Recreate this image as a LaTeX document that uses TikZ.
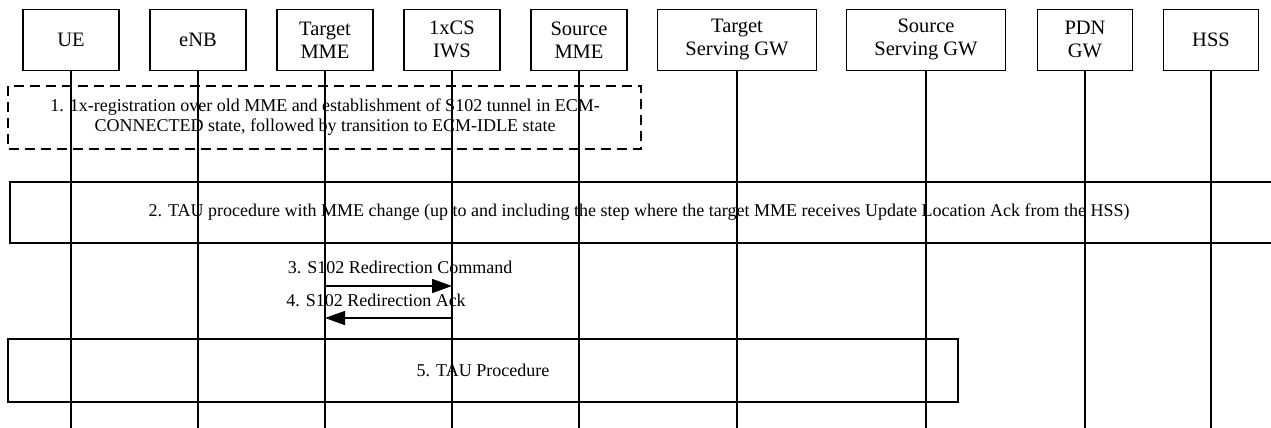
\documentclass[tikz,border=0pt]{standalone}
\usepackage{fontspec}
\setmainfont{Liberation Serif}
\usetikzlibrary{arrows.meta}
\begin{document}
\begin{tikzpicture}[x=1pt,y=-1pt,
  ent/.style={draw, line width=1.2pt, minimum height=61pt, inner sep=0pt,
    font=\fontsize{20.5}{23}\selectfont, align=center},
  life/.style={line width=1.3pt},
  frame/.style={line width=1.2pt},
  lbl/.style={font=\fontsize{18}{20}\selectfont, align=center, inner sep=0pt},
  msg/.style={line width=1.5pt, -{Triangle[length=20pt,width=14pt]}}]
\useasboundingbox (0,0) rectangle (1271,428);
\coordinate (bot) at (0,428);
% entities
\node[ent, minimum width=96pt]  (ue)   at (71,39.8)  {UE};
\node[ent, minimum width=96pt]  (enb)  at (198,39.8) {eNB};
\node[ent, minimum width=96pt]  (tmme) at (325,39.8) {Target\\MME};
\node[ent, minimum width=96pt]  (iws)  at (452,39.8) {1xCS\\IWS};
\node[ent, minimum width=96pt]  (smme) at (579,39.8) {Source\\MME};
\node[ent, minimum width=159pt] (tsgw) at (737,39.8) {Target\\Serving GW};
\node[ent, minimum width=159pt] (ssgw) at (926,39.8) {Source\\Serving GW};
\node[ent, minimum width=95pt]  (pgw)  at (1085,39.8) {PDN\\GW};
\node[ent, minimum width=95pt]  (hss)  at (1211,39.8) {HSS};
% lifelines
\foreach \n in {ue,enb,tmme,iws,smme,tsgw,ssgw,pgw,hss}
  \draw[life] (\n.south) -- (\n.south |- bot);
% step 1
\draw[frame, dashed, dash pattern=on 10pt off 6pt] (8,86) rectangle (641,149);
\node[lbl] (t1) at (325,117) {1. 1x-registration over old MME and establishment of S102 tunnel in ECM-\\CONNECTED state, followed by transition to ECM-IDLE state};
% step 2
\draw[frame] (1271,182) -- (10,182) -- (10,243) -- (1271,243);
\node[lbl] (t2) at (639,212) {2. TAU procedure with MME change (up to and including the step where the target MME receives Update Location Ack from the HSS)};
% step 3
\coordinate (m3a) at (tmme.south |- 0,286);
\coordinate (m3b) at (iws.south |- 0,286);
\draw[msg] (m3a) -- (m3b);
\node[lbl] (l3) at (400,267) {3. S102 Redirection Command};
% step 4
\coordinate (m4a) at (iws.south |- 0,318);
\coordinate (m4b) at (tmme.south |- 0,318);
\draw[msg] (m4a) -- (m4b);
\node[lbl] (l4) at (376,300) {4. S102 Redirection Ack};
% step 5
\draw[frame] (8,339) rectangle (958,402);
\node[lbl] (t5) at (483,370) {5. TAU Procedure};
\end{tikzpicture}
\end{document}
